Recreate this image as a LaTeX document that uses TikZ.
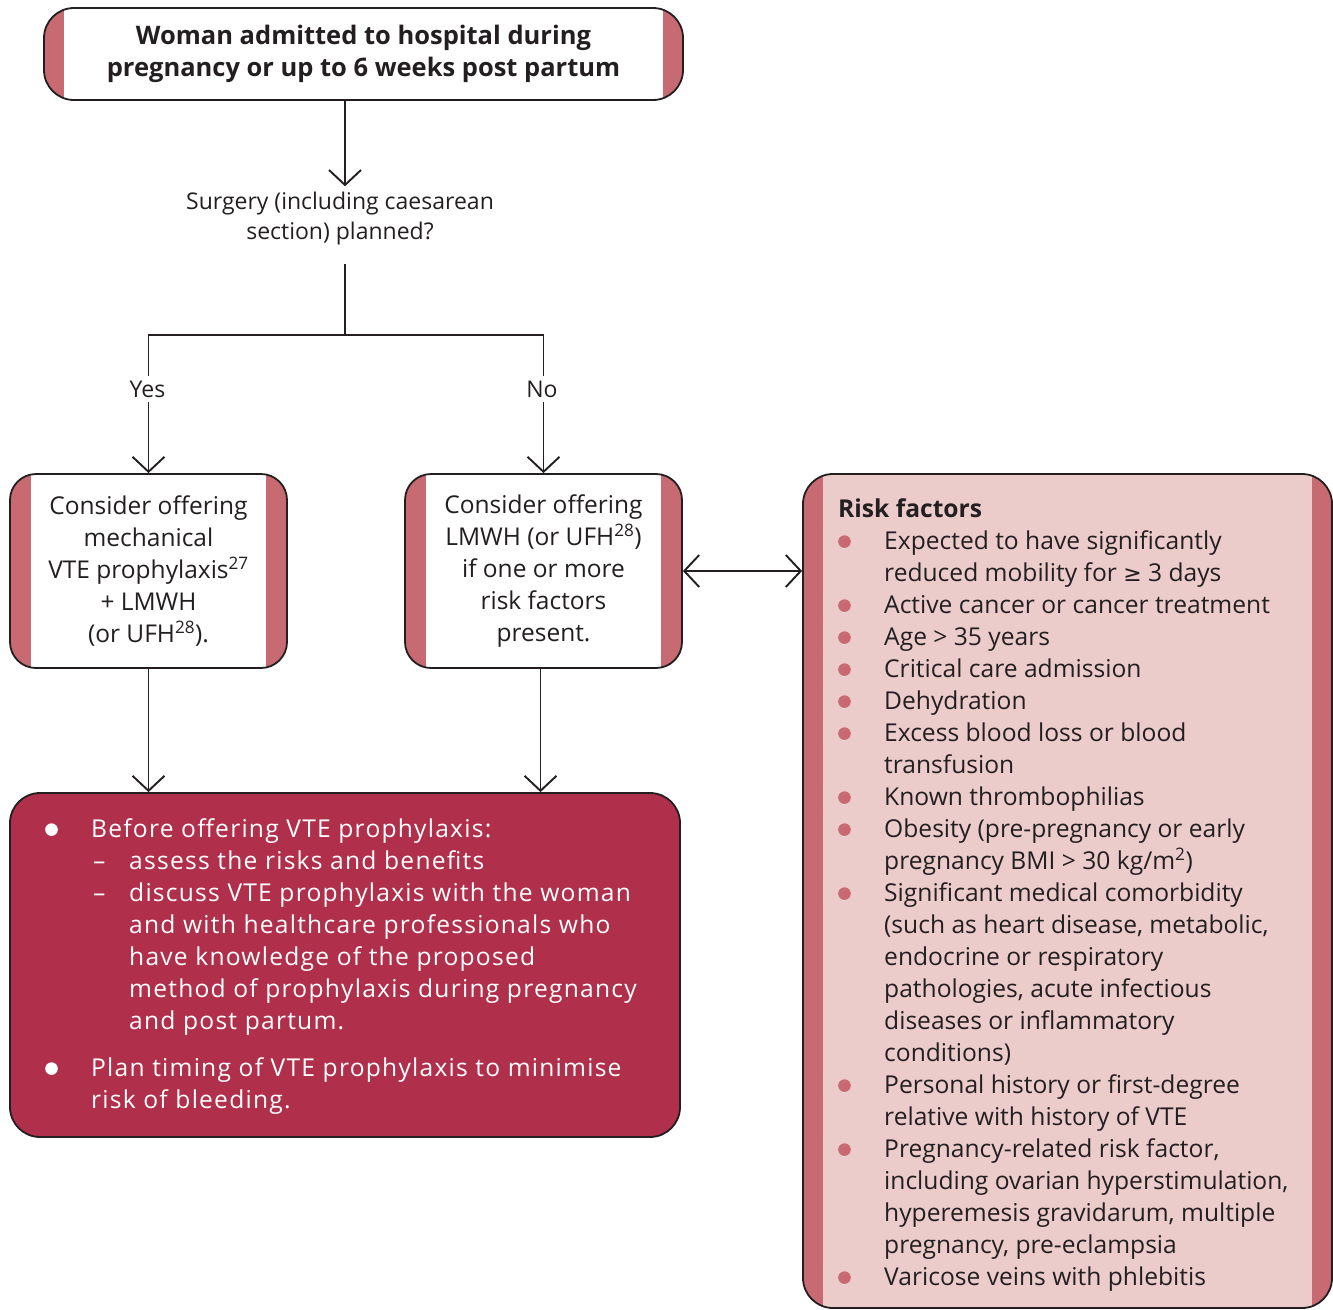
\documentclass[tikz,border=0pt]{standalone}
\usepackage{fontspec}
\setmainfont{Open Sans}
\newfontfamily\dejavu{DejaVu Sans}
\usetikzlibrary{arrows.meta}
\definecolor{barc}{HTML}{C76A72}
\definecolor{riskfill}{HTML}{ECCBCB}
\definecolor{crimson}{HTML}{B02F4B}
\definecolor{ink}{HTML}{231F20}
\newcommand\mybul[1]{\tikz[baseline=0pt,x=1pt,y=1pt]\fill[#1] (8,8) circle (6.3);}
\tikzset{
  box/.style={draw=ink, line width=1.8pt, rounded corners=#1, fill=white, align=center,
    inner sep=0pt, text=ink, font=\fontsize{24.5}{32}\selectfont},
  bars/.style={path picture={
    \fill[barc, sharp corners] (path picture bounding box.north west) rectangle ([xshift=#1]path picture bounding box.south west);
    \fill[barc, sharp corners] (path picture bounding box.north east) rectangle ([xshift=-#1]path picture bounding box.south east);}},
  lbl/.style={text=ink, align=center, font=\fontsize{23}{30}\selectfont},
  conn/.style={draw=ink, line width=1.9pt},
  arr/.style={conn, -{Straight Barb[length=15pt,width=32pt]}},
  darr/.style={conn, {Straight Barb[length=15pt,width=32pt]}-{Straight Barb[length=15pt,width=32pt]}},
}
\begin{document}
\begin{tikzpicture}[x=1pt,y=-1pt]
\useasboundingbox (0,0) rectangle (1333,1309);
% top box
\node[box=30pt, bars=20pt, minimum width=639pt, minimum height=92pt, font=\fontsize{25.5}{32}\selectfont\bfseries]
  (top) at (363.5,54) {Woman admitted to hospital during\\pregnancy or up to 6 weeks post partum};
% question
\node[lbl, inner sep=6pt] (q) at (340,219) {Surgery (including caesarean\\section) planned?};
\coordinate (j) at (345,335);
\node[lbl, inner sep=4pt] (yes) at (147.5,389) {Yes};
\node[lbl, inner sep=4pt] (no) at (542,389) {No};
% option boxes
\node[box=26pt, bars=21pt, minimum width=277pt, minimum height=194pt] (left) at (148.5,571)
  {Consider offering\\mechanical\\VTE prophylaxis\textsuperscript{27}\\+ LMWH\\(or UFH\textsuperscript{28}).};
\node[box=26pt, bars=21pt, minimum width=277pt, minimum height=194pt] (mid) at (543.5,571)
  {Consider offering\\LMWH (or UFH\textsuperscript{28})\\if one or more\\risk factors\\present.};
% risk box
\node[box=30pt, bars=20pt, fill=riskfill, minimum width=529pt, minimum height=834pt] (risk) at (1067.5,891) {};
\node[anchor=north west, inner sep=0pt, text=ink, align=left, font=\fontsize{24.6}{32}\selectfont] (risktext) at (838,495) {%
\begin{tabular}{@{}p{46pt}@{}l@{}}
\multicolumn{2}{@{}l@{}}{\bfseries Risk factors}\\
\mybul{barc} & Expected to have significantly\\
 & reduced mobility for {\dejavu\fontsize{22}{32}\selectfont ≥} 3 days\\
\mybul{barc} & Active cancer or cancer treatment\\
\mybul{barc} & Age > 35 years\\
\mybul{barc} & Critical care admission\\
\mybul{barc} & Dehydration\\
\mybul{barc} & Excess blood loss or blood\\
 & transfusion\\
\mybul{barc} & Known thrombophilias\\
\mybul{barc} & Obesity (pre-pregnancy or early\\
 & pregnancy BMI > 30 kg/m\textsuperscript{2})\\
\mybul{barc} & Significant medical comorbidity\\
 & (such as heart disease, metabolic,\\
 & endocrine or respiratory\\
 & pathologies, acute infectious\\
 & diseases or inflammatory\\
 & conditions)\\
\mybul{barc} & Personal history or first-degree\\
 & relative with history of VTE\\
\mybul{barc} & Pregnancy-related risk factor,\\
 & including ovarian hyperstimulation,\\
 & hyperemesis gravidarum, multiple\\
 & pregnancy, pre-eclampsia\\
\mybul{barc} & Varicose veins with phlebitis
\end{tabular}};
% bottom box
\node[box=30pt, fill=crimson, minimum width=670pt, minimum height=344pt] (bot) at (345,965) {};
\node[anchor=north west, inner sep=0pt, text=white, align=left, font=\fontsize{24.6}{32}\selectfont\addfontfeatures{LetterSpace=5}] (bottext) at (45,815) {%
\begin{tabular}{@{}p{46pt}@{}p{38pt}@{}l@{}}
\mybul{white} & \multicolumn{2}{@{}l@{}}{Before offering VTE prophylaxis:}\\
 & \hspace{2pt}– & assess the risks and benefits\\
 & \hspace{2pt}– & discuss VTE prophylaxis with the woman\\
 & & and with healthcare professionals who\\
 & & have knowledge of the proposed\\
 & & method of prophylaxis during pregnancy\\
 & & and post partum.\\[15pt]
\mybul{white} & \multicolumn{2}{@{}l@{}}{Plan timing of VTE prophylaxis to minimise}\\
 & \multicolumn{2}{@{}l@{}}{risk of bleeding.}
\end{tabular}};
% connectors
\draw[arr] (top.south -| j) -- (q.north -| j);
\draw[conn, shorten <=12pt] (q.south -| j) -- (j);
\draw[conn] (j) -| (yes.north -| left.north);
\draw[conn] (j) -| (no.north -| mid.north);
\draw[arr] (yes.south -| left.north) -- (left.north);
\draw[arr] (no.south -| mid.north) -- (mid.north);
\draw[darr] (mid.east) -- (risk.west |- mid.east);
\draw[arr] (left.south) -- (left.south |- bot.north);
\draw[arr] ([xshift=-3pt]mid.south) -- ([xshift=-3pt]mid.south |- bot.north);
\end{tikzpicture}
\end{document}
